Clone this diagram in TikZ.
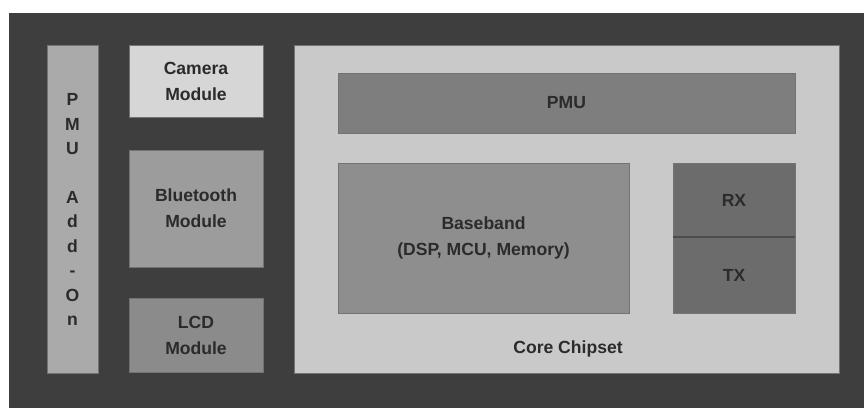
\documentclass[tikz,border=0pt]{standalone}
\usepackage{fontspec}
\setmainfont{Liberation Sans}
\usepackage{xcolor}
\definecolor{casing}{HTML}{3E3E3E}
\definecolor{chipset}{HTML}{C9C9C9}
\definecolor{camfill}{HTML}{D6D6D6}
\definecolor{addonfill}{HTML}{AAAAAA}
\definecolor{btfill}{HTML}{9C9C9C}
\definecolor{lcdfill}{HTML}{8B8B8B}
\definecolor{pmufill}{HTML}{7E7E7E}
\definecolor{bbfill}{HTML}{8E8E8E}
\definecolor{rffill}{HTML}{6C6C6C}
\definecolor{inktext}{HTML}{2B2B2B}

\begin{document}
\begin{tikzpicture}[x=0.02cm,y=-0.02cm,
  font=\fontsize{10}{14.8}\selectfont\bfseries,
  block/.style={draw=black!55,line width=0.5pt,inner sep=0pt,outer sep=0pt,
    align=center,text=inktext}]
\useasboundingbox[fill=white] (0,0) rectangle (864,408);
\node[fill=casing,inner sep=0pt,minimum width=17.1cm,minimum height=7.9cm]
  (casing) at (436.5,210.5) {};

% left column
\node[block,fill=addonfill,minimum width=1.02cm,minimum height=6.56cm,
      font=\fontsize{10}{13.9}\selectfont\bfseries]
  (addon) at (72.5,209.5) {P\\M\\U\\[13.9pt]A\\d\\d\\-\\O\\n};
\node[block,fill=camfill,minimum width=2.68cm,minimum height=1.44cm]
  (camera) at (196,81) {Camera\\Module};
\node[block,fill=btfill,minimum width=2.68cm,minimum height=2.34cm]
  (bt) at (196,208.5) {Bluetooth\\Module};
\node[block,fill=lcdfill,minimum width=2.68cm,minimum height=1.48cm]
  (lcd) at (196,335) {LCD\\Module};

% core chipset
\node[block,fill=chipset,minimum width=10.9cm,minimum height=6.56cm]
  (core) at (566.5,209) {};
\node[block,fill=pmufill,minimum width=9.14cm,minimum height=1.2cm]
  (pmu) at (566.5,103) {PMU};
\node[block,fill=bbfill,minimum width=5.82cm,minimum height=3cm]
  (bb) at (483.5,238) {Baseband\\(DSP, MCU, Memory)};
\node[block,fill=rffill,minimum width=2.44cm,minimum height=1.48cm]
  (rx) at (734,200) {RX};
\node[block,fill=rffill,minimum width=2.44cm,minimum height=1.52cm]
  (tx) at (734,275) {TX};
\draw[black!70,line width=0.6pt] (rx.south west) -- (rx.south east);
\node[text=inktext] (corelabel) at (568,349) {Core Chipset};
\end{tikzpicture}
\end{document}
